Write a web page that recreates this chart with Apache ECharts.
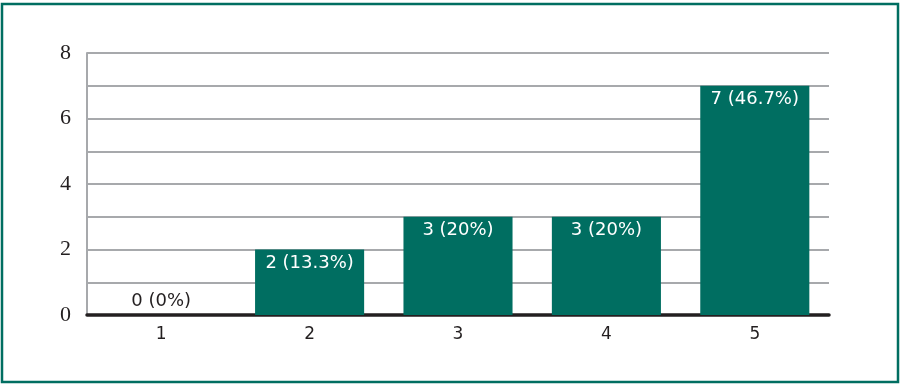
<!DOCTYPE html>
<html>
<head>
<meta charset="utf-8">
<script src="https://cdn.jsdelivr.net/npm/echarts@6/dist/echarts.min.js"></script>
<style>
html,body{margin:0;padding:0;background:#fff;}
#main{width:903px;height:387px;}
</style>
</head>
<body>
<div id="main"></div>
<script>
var categories=['1','2','3','4','5'];
var counts=[0,2,3,3,7];
var percents=['0%','13.3%','20%','20%','46.7%'];

var green='#006e61';
var chart=echarts.init(document.getElementById('main'));

var barData=counts.map(function(v){
	if(v===0){
		return {value:v,label:{position:'top',color:'#231f20',distance:5}};
	}
	return v;
});

var option={
	animation:false,
	graphic:[{
		type:'rect',
		shape:{x:2,y:4,width:896,height:378},
		style:{fill:'none',stroke:green,lineWidth:2.5}
	}],
	grid:{left:87,right:74,top:53,bottom:72},
	xAxis:{
		type:'category',
		data:categories,
		axisLine:{lineStyle:{color:'#231f20',width:3.5}},
		axisTick:{show:false},
		axisLabel:{fontFamily:'DejaVu Sans',fontSize:17,color:'#231f20',margin:11}
	},
	yAxis:{
		type:'value',
		min:0,max:8,interval:1,
		axisLine:{show:true,lineStyle:{color:'#a7a9ac',width:2}},
		axisTick:{show:false},
		splitLine:{lineStyle:{color:'#a7a9ac',width:2}},
		axisLabel:{
			fontFamily:'Liberation Serif',fontSize:22,color:'#231f20',margin:16,
			formatter:function(v){return v%2===0?v:'';}
		}
	},
	series:[{
		type:'bar',
		data:barData,
		barWidth:'73.5%',
		itemStyle:{color:green},
		label:{
			show:true,
			position:'insideTop',
			distance:5,
			fontFamily:'DejaVu Sans',
			fontSize:18,
			color:'#ffffff',
			formatter:function(p){return counts[p.dataIndex]+' ('+percents[p.dataIndex]+')';}
		}
	}]
};
chart.setOption(option);
</script>
</body>
</html>
